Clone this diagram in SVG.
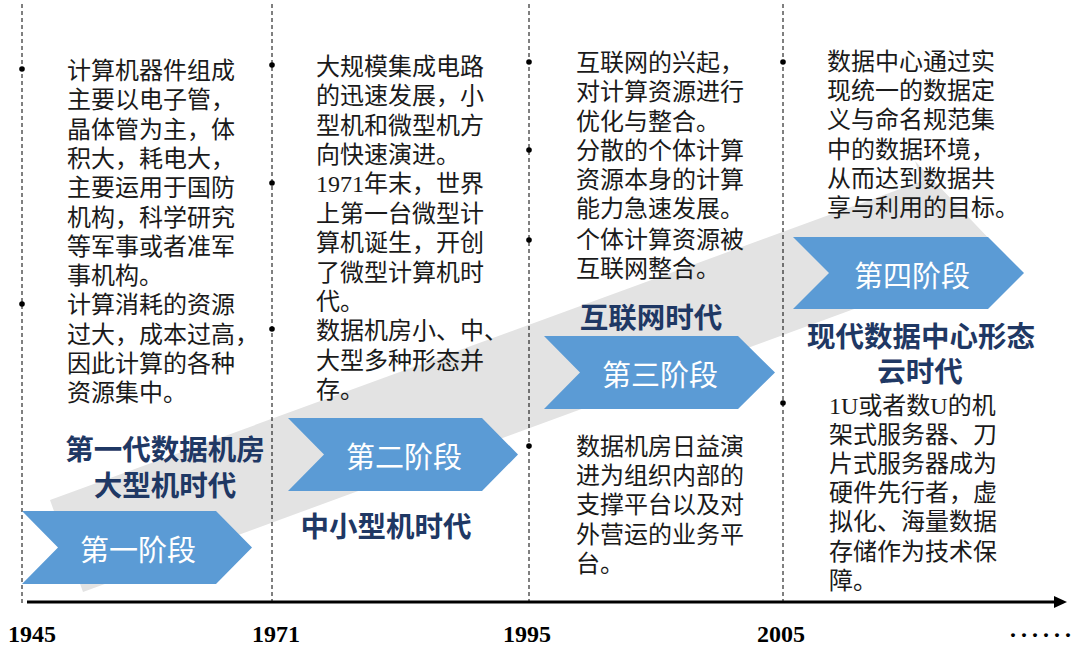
<svg xmlns="http://www.w3.org/2000/svg" width="1073" height="647" viewBox="0 0 1073 647">
<style>
.body{font-family:"Liberation Serif","Noto Sans CJK SC",serif;font-size:24px;fill:#1a1a1a;}
.title{font-family:"Noto Sans CJK SC",sans-serif;font-size:28.5px;font-weight:bold;fill:#1F3864;text-anchor:middle;}
.chev{fill:#5B9BD5;}
.chevtxt{font-family:"Noto Sans CJK SC",sans-serif;font-size:29px;fill:#ffffff;text-anchor:middle;}
.year{font-family:"Liberation Serif",serif;font-size:24px;font-weight:bold;fill:#000;text-anchor:middle;}
.dash{stroke:#000;stroke-width:1;stroke-dasharray:4 3;fill:none;}
.bullet{fill:#000;}
</style>
<defs>
<marker id="axisHead" markerWidth="14" markerHeight="14" refX="1" refY="6" orient="auto" markerUnits="userSpaceOnUse">
<path d="M0,0 L13,6 L0,12 Z" fill="#000"/>
</marker>
</defs>

<g id="background-arrow">
<polygon points="50,500 922,181 915,161 995,245 963,292 955,272 83,592" fill="#e3e3e3"/>
</g>

<g id="connectors">
<line class="dash" x1="22" y1="4" x2="22" y2="606"/>
<line class="dash" x1="272" y1="4" x2="272" y2="606"/>
<line class="dash" x1="529" y1="4" x2="529" y2="606"/>
<line class="dash" x1="783" y1="4" x2="783" y2="606"/>
<line x1="27" y1="602" x2="1055" y2="602" stroke="#000" stroke-width="3" marker-end="url(#axisHead)"/>
</g>

<g id="stage1">
<polygon class="chev" points="22,511 216,511 252,547.5 216,584 22,584 58,547.5"/>
<text class="chevtxt" x="138" y="561">第一阶段</text>
</g>
<g id="stage2">
<polygon class="chev" points="288,418 482,418 518,454.5 482,491 288,491 324,454.5"/>
<text class="chevtxt" x="404" y="468">第二阶段</text>
</g>
<g id="stage3">
<polygon class="chev" points="544,336 738,336 775,372.5 738,409 544,409 580,372.5"/>
<text class="chevtxt" x="660" y="386">第三阶段</text>
</g>
<g id="stage4">
<polygon class="chev" points="793,237 988,237 1024,273 988,309 793,309 829,273"/>
<text class="chevtxt" x="912" y="286.5">第四阶段</text>
</g>

<g id="era1">
<text class="title"><tspan x="165" y="460">第一代数据机房</tspan><tspan x="165" y="496">大型机时代</tspan></text>
</g>
<g id="era2">
<text class="title" x="386" y="537">中小型机时代</text>
</g>
<g id="era3">
<text class="title" x="651" y="328">互联网时代</text>
</g>
<g id="era4">
<text class="title"><tspan x="921" y="347">现代数据中心形态</tspan><tspan x="920" y="382">云时代</tspan></text>
</g>

<g id="notes1">
<circle class="bullet" cx="22" cy="69" r="2.8"/>
<circle class="bullet" cx="22" cy="304" r="2.8"/>
<text class="body">
<tspan x="67" y="79">计算机器件组成</tspan>
<tspan x="67" y="108">主要以电子管，</tspan>
<tspan x="67" y="138">晶体管为主，体</tspan>
<tspan x="67" y="167">积大，耗电大，</tspan>
<tspan x="67" y="196">主要运用于国防</tspan>
<tspan x="67" y="226">机构，科学研究</tspan>
<tspan x="67" y="255">等军事或者准军</tspan>
<tspan x="67" y="284">事机构。</tspan>
<tspan x="67" y="313">计算消耗的资源</tspan>
<tspan x="67" y="343">过大，成本过高，</tspan>
<tspan x="67" y="372">因此计算的各种</tspan>
<tspan x="67" y="401">资源集中。</tspan>
</text>
</g>

<g id="notes2">
<circle class="bullet" cx="272" cy="65" r="2.8"/>
<circle class="bullet" cx="272" cy="183" r="2.8"/>
<circle class="bullet" cx="272" cy="329" r="2.8"/>
<text class="body">
<tspan x="316" y="75">大规模集成电路</tspan>
<tspan x="316" y="104">的迅速发展，小</tspan>
<tspan x="316" y="134">型机和微型机方</tspan>
<tspan x="316" y="163">向快速演进。</tspan>
<tspan x="316" y="192">1971年末，世界</tspan>
<tspan x="316" y="222">上第一台微型计</tspan>
<tspan x="316" y="251">算机诞生，开创</tspan>
<tspan x="316" y="281">了微型计算机时</tspan>
<tspan x="316" y="310">代。</tspan>
<tspan x="316" y="339">数据机房小、中、</tspan>
<tspan x="316" y="369">大型多种形态并</tspan>
<tspan x="316" y="398">存。</tspan>
</text>
</g>

<g id="notes3">
<circle class="bullet" cx="529" cy="62" r="2.8"/>
<circle class="bullet" cx="529" cy="150" r="2.8"/>
<circle class="bullet" cx="529" cy="240" r="2.8"/>
<text class="body">
<tspan x="576" y="71">互联网的兴起，</tspan>
<tspan x="576" y="100">对计算资源进行</tspan>
<tspan x="576" y="130">优化与整合。</tspan>
<tspan x="576" y="159">分散的个体计算</tspan>
<tspan x="576" y="188">资源本身的计算</tspan>
<tspan x="576" y="217">能力急速发展。</tspan>
<tspan x="576" y="248">个体计算资源被</tspan>
<tspan x="576" y="277">互联网整合。</tspan>
</text>
</g>

<g id="notes3b">
<circle class="bullet" cx="529" cy="446" r="2.8"/>
<text class="body">
<tspan x="576" y="455">数据机房日益演</tspan>
<tspan x="576" y="484">进为组织内部的</tspan>
<tspan x="576" y="513">支撑平台以及对</tspan>
<tspan x="576" y="543">外营运的业务平</tspan>
<tspan x="576" y="572">台。</tspan>
</text>
</g>

<g id="notes4">
<circle class="bullet" cx="783" cy="62" r="2.8"/>
<text class="body">
<tspan x="827" y="70">数据中心通过实</tspan>
<tspan x="827" y="99">现统一的数据定</tspan>
<tspan x="827" y="128">义与命名规范集</tspan>
<tspan x="827" y="158">中的数据环境，</tspan>
<tspan x="827" y="187">从而达到数据共</tspan>
<tspan x="827" y="216">享与利用的目标。</tspan>
</text>
</g>

<g id="notes4b">
<circle class="bullet" cx="783" cy="403" r="2.8"/>
<text class="body">
<tspan x="829" y="414">1U或者数U的机</tspan>
<tspan x="829" y="443">架式服务器、刀</tspan>
<tspan x="829" y="472">片式服务器成为</tspan>
<tspan x="829" y="501">硬件先行者，虚</tspan>
<tspan x="829" y="530">拟化、海量数据</tspan>
<tspan x="829" y="560">存储作为技术保</tspan>
<tspan x="829" y="589">障。</tspan>
</text>
</g>

<g id="years">
<text class="year" x="32" y="642">1945</text>
<text class="year" x="276" y="642">1971</text>
<text class="year" x="527" y="642">1995</text>
<text class="year" x="781" y="642">2005</text>
<text class="year" x="1009 1020 1031 1042 1053 1064" y="643" style="text-anchor:start">······</text>
</g>
</svg>
